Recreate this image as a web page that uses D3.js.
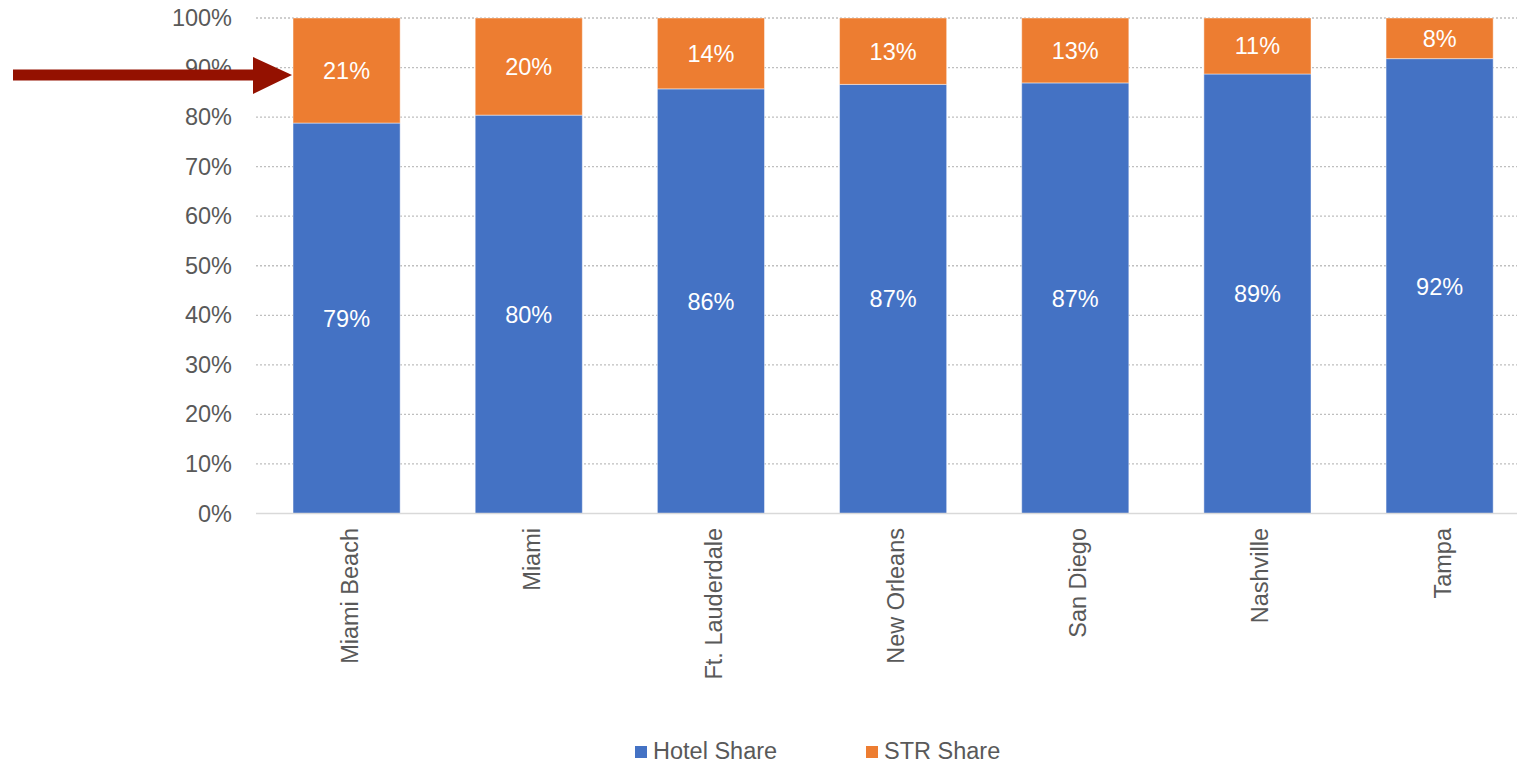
<!DOCTYPE html>
<html>
<head>
<meta charset="utf-8">
<script src="https://cdn.jsdelivr.net/npm/d3@7"></script>
<style>
  html, body { margin: 0; padding: 0; background: #fff; overflow: hidden; }
  text { font-family: "Liberation Sans", Arial, Helvetica, sans-serif; }
</style>
</head>
<body>
<div id="chart"></div>
<script>
// data
const cities = ['Miami Beach', 'Miami', 'Ft. Lauderdale', 'New Orleans', 'San Diego', 'Nashville', 'Tampa']
const hotelShare = [0.788, 0.804, 0.857, 0.866, 0.869, 0.887, 0.918]
const strShare = hotelShare.map(v => 1 - v)
const yTicks = [0, 0.1, 0.2, 0.3, 0.4, 0.5, 0.6, 0.7, 0.8, 0.9, 1]
const seriesNames = ['Hotel Share', 'STR Share']
const colors = ['#4472C4', '#ED7D31']
// annotation arrow points at this level of the first bar
const arrowLevel = 0.885

const width = 1517
const height = 764
const fontSize = 23.5

const svg = d3.create('svg')
  .attr('width', width)
  .attr('height', height)

const x = d3.scaleBand()
  .domain(cities)
  .range([255.5, 1530.7])
  .paddingInner(0.412)
  .paddingOuter(0.206)

const y = d3.scaleLinear().domain([0, 1]).range([513.5, 18])

// gridlines
svg.append('g')
  .selectAll('line')
  .data(yTicks.filter(d => d > 0))
  .join('line')
  .attr('x1', 256)
  .attr('x2', width)
  .attr('y1', d => y(d))
  .attr('y2', d => y(d))
  .attr('stroke', '#bfbfbf')
  .attr('stroke-width', 1.3)
  .attr('stroke-dasharray', '2,2')

// y tick labels
const yAxis = d3.axisLeft(y).tickValues(yTicks).tickFormat(d3.format('.0%')).tickSize(0).tickPadding(0)
const yg = svg.append('g').attr('transform', 'translate(232,0)').call(yAxis)
yg.select('.domain').remove()
yg.selectAll('text')
  .attr('fill', '#595959')
  .attr('font-size', fontSize)
  .attr('font-family', '"Liberation Sans", Arial, sans-serif')

// stacked data
const rows = cities.map((c, i) => ({ city: c, hotel: hotelShare[i], str: strShare[i] }))
const stack = d3.stack().keys(['hotel', 'str'])(rows)

const layers = svg.append('g')
  .selectAll('g')
  .data(stack)
  .join('g')
  .attr('fill', (d, i) => colors[i])

layers.selectAll('rect')
  .data(d => d)
  .join('rect')
  .attr('x', d => x(d.data.city))
  .attr('width', x.bandwidth())
  .attr('y', d => y(d[1]))
  .attr('height', d => y(d[0]) - y(d[1]))
  .attr('stroke', '#fff')
  .attr('stroke-opacity', 0.45)
  .attr('stroke-width', 1)

// value labels
layers.selectAll('text')
  .data(d => d)
  .join('text')
  .attr('x', d => x(d.data.city) + x.bandwidth() / 2)
  .attr('y', d => (y(d[0]) + y(d[1])) / 2)
  .attr('dy', '0.36em')
  .attr('text-anchor', 'middle')
  .attr('fill', '#fff')
  .attr('font-size', fontSize)
  .text(d => Math.round((d[1] - d[0]) * 100) + '%')

// zero baseline
svg.append('line')
  .attr('x1', 256)
  .attr('x2', width)
  .attr('y1', y(0))
  .attr('y2', y(0))
  .attr('stroke', '#d9d9d9')
  .attr('stroke-width', 1.5)

// x labels, rotated
svg.append('g')
  .selectAll('text')
  .data(cities)
  .join('text')
  .attr('transform', d => `translate(${x(d) + x.bandwidth() / 2 + 11},528) rotate(-90)`)
  .attr('text-anchor', 'end')
  .attr('fill', '#595959')
  .attr('font-size', fontSize)
  .text(d => d)

// legend
const legend = svg.append('g').attr('transform', 'translate(635,746)')
const legendX = [0, 231]
seriesNames.forEach((name, i) => {
  const g = legend.append('g').attr('transform', `translate(${legendX[i]},0)`)
  g.append('rect').attr('width', 12).attr('height', 12).attr('fill', colors[i])
  g.append('text')
    .attr('x', 18)
    .attr('y', 13)
    .attr('fill', '#595959')
    .attr('font-size', fontSize)
    .text(name)
})

// annotation arrow
const tipX = x(cities[0]) - 1
const tipY = y(arrowLevel)
svg.append('path')
  .attr('d', `M13,${tipY - 5.5} H253 V${tipY - 18} L${tipX},${tipY} L253,${tipY + 19} V${tipY + 5.5} H13 Z`)
  .attr('fill', '#941100')

document.getElementById('chart').appendChild(svg.node())
</script>
</body>
</html>
